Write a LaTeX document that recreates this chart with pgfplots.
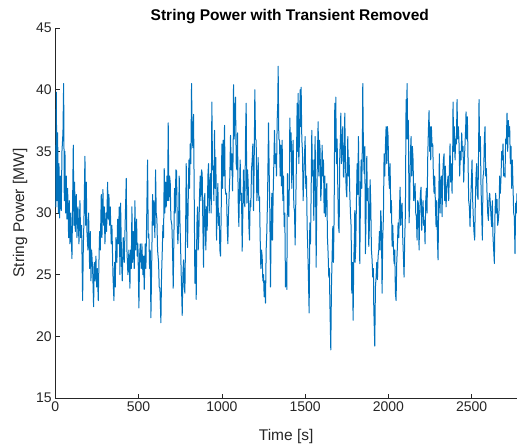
\documentclass[border=0pt]{standalone}
\usepackage{pgfplots}
\pgfplotsset{compat=1.18}
\usepackage{fontspec}
\setmainfont{Liberation Sans}
\definecolor{mblue}{RGB}{0,114,189}
\definecolor{mgray}{RGB}{38,38,38}
\begin{document}
\begin{tikzpicture}
\begin{axis}[
  name=ax,
  scale only axis,
  width=461.7bp, height=370bp,
  xmin=0, xmax=2772, ymin=15, ymax=45,
  xtick={0,500,1000,1500,2000,2500},
  ytick={15,20,25,30,35,40,45},
  axis x line*=bottom, axis y line*=left,
  axis line style={mgray, line width=0.6bp, -},
  tick style={mgray, line width=0.6bp},
  major tick length=4.5bp,
  tick align=inside,
  /pgf/number format/assume math mode=true,
  /pgf/number format/1000 sep={},
  ticklabel style={font=\fontsize{14bp}{16bp}\selectfont, text=mgray},
  label style={font=\fontsize{15.5bp}{18bp}\selectfont, text=mgray},
  title style={font=\fontsize{15.5bp}{18bp}\selectfont\bfseries, at={(axis description cs:0.508,1.016)}, anchor=center},
  title={String Power with Transient Removed},
  xlabel={Time [s]},
  ylabel={String Power [MW]},
  x label style={at={(axis description cs:0.5,-0.105)}, anchor=center},
  y label style={at={(axis description cs:-0.076,0.5)}, anchor=center},
]
\addplot[mblue, line width=1bp, mark=none, line join=round] table {
x y
0 35.5
4 30.5
6 39.8
10 31
14 36.5
18 30
22 34
26 29.6
30 33
36 30.2
40 35
46 36.5
50 40.5
54 31
58 35
62 30
66 33
70 29.5
74 32
80 28
84 31
88 27.5
92 30
100 26.3
104 31
108 35.5
112 29
116 32.5
120 28.5
126 31.5
130 28
136 30.5
142 27.5
148 31
152 28
158 29
164 22.9
168 27
172 29.5
178 34.6
182 29
186 32.5
190 28.5
196 27
200 30
206 25.5
210 28.5
214 24.5
218 27
224 25.5
230 22.4
234 26
238 24.5
244 26.5
248 24
252 25.5
258 22.9
262 26
266 28.5
270 27
276 31.5
280 28
286 31.9
290 29
294 30.5
298 27.5
304 30
308 28.5
314 32.5
318 29.5
322 31.5
326 29
330 30.5
336 27.5
340 29
346 25
352 22.9
356 26
360 24
364 28
370 26
374 29.5
378 27.5
384 30.5
388 25
392 30.8
398 26
402 24.5
408 28
414 26
420 29.5
426 32.8
430 27
436 25
442 27
448 23.9
452 27
456 25.5
460 30.5
464 26
468 28.5
474 25.5
478 31
482 27
488 29.5
492 26.5
496 27.5
502 22.3
506 26.5
510 27.5
516 25.5
520 27.5
526 25
530 26.5
534 23.8
540 27.5
544 25.5
548 29
554 34.3
558 28
562 28.3
566 25.5
570 27
574 21.5
580 27
584 31.5
588 29
592 31
598 28
602 33.5
606 30
610 29.5
614 27
620 26
624 24
628 23.9
634 21.1
638 25
642 26.8
646 29
650 28
654 33.6
658 30
662 32.5
666 30.5
670 33
674 31
678 37.3
682 31
686 33
690 32.5
694 29.5
700 29
704 27
708 23.9
712 28
716 32
720 30
724 33.5
728 33.4
732 29
736 27.5
740 29
744 33
748 29.5
752 27.4
756 25
762 21.7
766 25
770 26.2
774 24
778 23.5
782 28
786 34
790 30
794 27.2
798 31
802 34.3
806 32
810 35.6
814 34
818 40.5
822 36
826 35.3
830 38
834 31.5
838 24.3
842 27
846 23
850 29
854 30.5
858 27
862 28.3
866 31.5
870 33
874 31
878 33.5
882 33.2
886 29
890 25.6
894 31
898 31.6
900 29
904 27
908 30.5
912 28.6
916 33
920 34
924 30
928 32.5
932 33.2
936 30
940 39
944 33.5
948 33.8
952 31
956 36.7
960 32
964 34.5
968 27.8
972 30.5
976 32.4
980 29
984 30
988 27
992 26.5
996 30
1000 35.6
1004 32
1008 35.9
1012 33
1016 37.1
1020 32
1024 31.5
1028 31.6
1032 29
1036 27.5
1040 30
1044 31.6
1048 33
1052 36.3
1056 33.5
1060 34.8
1064 31.8
1068 35
1070 40.4
1074 36
1078 38.3
1082 39.4
1086 34
1090 33.5
1094 36.5
1098 31
1102 28.9
1106 32
1110 34.3
1114 31
1118 31.6
1122 26.9
1126 30
1130 33.5
1134 31
1138 30.5
1142 36
1146 38.9
1150 30.8
1154 33.5
1158 32.5
1162 29
1166 27.8
1170 31
1174 30.5
1178 33.5
1182 34.3
1186 35.6
1190 30.2
1194 34
1198 40
1202 36
1206 35.9
1210 31
1214 32
1218 34.5
1222 31
1226 31.3
1230 28
1234 25.5
1238 27
1242 26.5
1246 24.5
1250 25
1254 23.2
1258 24.5
1262 22.7
1266 27
1270 28.5
1274 31
1278 35
1280 37.3
1284 33.5
1288 30
1292 24
1296 29
1300 31.6
1304 27.8
1308 31.5
1312 34
1316 36.7
1320 34
1324 34.8
1328 33
1332 37.5
1336 39
1338 41.9
1342 36
1346 35.9
1350 33
1354 35.5
1358 32.2
1362 35.9
1366 31
1370 33
1374 28.9
1378 30
1382 24
1386 26
1390 23.8
1394 33.2
1398 30
1402 29.7
1406 33
1408 37.7
1412 35
1416 36.5
1420 32
1424 34.5
1428 35.9
1432 30.5
1436 30.2
1440 27.4
1444 31
1448 34.3
1452 38.9
1456 35
1458 39.7
1462 34
1466 36
1470 40
1474 37
1476 40.2
1480 36
1484 35
1488 31
1492 33
1496 34.5
1500 36.2
1504 32
1508 33
1512 28.9
1516 27
1520 24.6
1524 21.9
1528 29.2
1532 27.5
1536 31.6
1540 36.7
1544 33
1548 34.3
1552 29.4
1556 33
1560 36.2
1564 30
1566 25.6
1570 31
1574 34.8
1578 37.4
1582 33
1586 35.9
1590 35.1
1594 31
1598 32.4
1602 35.5
1606 33
1610 34.3
1614 30
1618 33
1622 29.7
1626 31.5
1630 32.4
1634 28
1638 26.7
1642 24.8
1646 25.5
1648 23.1
1654 18.9
1658 24
1662 26.5
1666 28.9
1670 26
1674 29.7
1678 38.9
1682 35
1684 39.4
1688 34
1692 36
1696 32.1
1700 29
1704 28.4
1708 34.8
1712 36
1714 38.1
1718 34
1722 35.6
1726 37
1730 33
1732 32.9
1736 35
1738 38.1
1742 34.3
1746 32
1750 31.3
1754 34
1756 36.2
1760 33
1764 34.5
1768 31.6
1772 30
1776 28.9
1780 23.5
1784 26
1788 21.3
1792 26.2
1796 28
1798 30.2
1800 26
1804 27.3
1808 31
1812 34
1816 31.5
1820 36.2
1824 31.9
1828 25.9
1832 31
1836 34.3
1840 32
1844 36
1846 40.5
1850 35
1854 33.2
1858 35.4
1862 26.7
1866 30
1870 34.6
1874 31
1878 32
1882 27.3
1886 29
1890 32.7
1894 30.8
1898 27
1902 26.2
1906 24.8
1910 25.5
1912 22.4
1918 19.2
1922 24
1926 24.8
1930 26
1934 24.6
1938 26.5
1942 27
1946 28.5
1950 27
1954 30.2
1958 29
1962 23.5
1966 28
1970 29.7
1974 34.8
1978 33
1982 35.4
1986 37
1990 34
1994 37
1998 36.2
2002 33
2006 32
2010 34
2014 30
2018 31
2022 27.3
2026 29
2030 27.3
2034 25.9
2038 27
2042 23.5
2046 22.9
2050 26
2054 27.3
2058 29.2
2062 28
2066 30
2070 32.1
2074 29
2078 30.5
2082 30.8
2086 28
2090 26.5
2094 24.8
2098 28
2102 30
2106 39.2
2108 36
2112 40.5
2116 36
2120 37.5
2124 29.2
2128 31
2132 34.8
2136 36.2
2140 33
2144 35.4
2148 34.3
2152 31
2156 31.5
2160 32.4
2164 30
2168 29.7
2172 27.8
2176 31
2180 30.8
2184 27
2188 30
2192 31.6
2196 32.1
2200 28.6
2204 30
2208 31
2212 29
2216 29.4
2220 27.5
2224 31
2228 32
2232 30
2236 34.5
2240 36.7
2244 38.3
2248 35
2250 37
2254 34.3
2258 37
2262 35.4
2266 35.6
2270 33
2274 31.6
2278 33
2282 30.8
2286 28.9
2290 31
2294 28
2298 26.2
2302 31
2306 34.8
2310 30
2314 32.5
2318 33
2322 29.7
2326 33
2330 34.3
2334 34.8
2338 31
2342 33.8
2346 30.5
2350 32
2354 32.4
2358 33
2362 31
2366 33.5
2370 35.6
2374 32.5
2378 34
2382 31.6
2386 35
2388 39
2392 35
2396 37
2400 34.3
2404 36
2408 35.6
2412 39.2
2416 36
2420 37
2424 35.6
2428 33
2432 35
2436 34.3
2440 36.5
2444 35
2448 35.4
2452 32.5
2456 34.3
2460 35.6
2464 37
2466 38.2
2470 36
2474 37.8
2478 34.3
2482 31
2486 30.5
2490 28.9
2494 31
2498 32.5
2502 34.3
2506 31
2510 29.5
2514 28.4
2518 27.8
2522 31
2526 33
2530 34
2534 31.5
2538 31.1
2542 36
2544 39.2
2548 35
2552 36.2
2556 32.1
2560 30
2564 27.8
2568 33
2572 33.2
2576 36
2580 37
2584 33
2588 33.6
2592 31.6
2596 30
2600 29.4
2604 31.1
2608 31.6
2612 30.8
2616 29.7
2620 28.9
2624 31
2628 28
2632 27
2636 25.9
2640 30
2644 31.6
2648 30
2652 31.1
2656 29
2660 29.4
2664 30.2
2668 33
2672 31.6
2676 32.9
2680 35
2684 34.3
2688 35.6
2692 33
2696 33.2
2700 32.9
2704 36
2708 35.6
2712 38.1
2716 35
2720 37.5
2724 36.2
2728 37
2732 34
2736 35.4
2740 32
2744 34.3
2748 32.2
2752 30
2756 29.7
2760 26.7
2764 30.8
2768 30
2772 31.6
};
\end{axis}
\pgfresetboundingbox
\useasboundingbox ([xshift=-55.3bp,yshift=-50bp]ax.south west) rectangle ([yshift=28bp]ax.north east);
\end{tikzpicture}
\end{document}
